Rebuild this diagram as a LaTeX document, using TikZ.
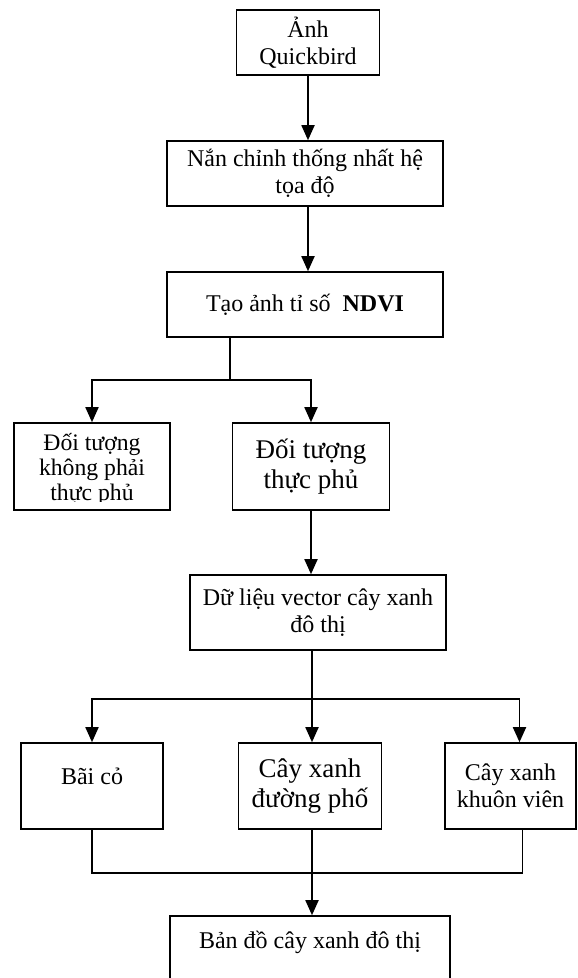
\documentclass[tikz,border=0pt]{standalone}
\usepackage{fontspec}
\setmainfont{Liberation Serif}
\usetikzlibrary{arrows.meta}

\begin{document}
\begin{tikzpicture}[x=1pt,y=-1pt,
  box/.style={draw,line width=1.6pt,inner sep=0pt,align=center,font=\fontsize{24}{27.5}\selectfont},
  big/.style={font=\fontsize{27}{30}\selectfont},
  txt/.style={inner sep=0pt,align=center,font=\fontsize{24}{27.5}\selectfont},
  link/.style={line width=1.8pt},
  arr/.style={link,-{Triangle[length=15pt,width=13pt]}}]
\useasboundingbox (0,0) rectangle (578,978);
% main column
\node[box,minimum width=143pt,minimum height=65pt] (anh) at (308,42.5) {Ảnh\\Quickbird};
\node[box,minimum width=276pt,minimum height=65pt] (nanchinh) at (305,173.5) {Nắn chỉnh thống nhất hệ\\tọa độ};
\node[box,minimum width=276pt,minimum height=65pt] (ndvi) at (305,304.5) {Tạo ảnh tỉ số~~\textbf{NDVI}};
% split on NDVI
\node[box,minimum width=156pt,minimum height=87pt] (khong) at (92,466.5) {};
\begin{scope}
\clip ([yshift=9pt]khong.south west) rectangle (khong.north east);
\node[txt,font=\fontsize{23.7}{25}\selectfont,anchor=north] (khongtxt) at ([yshift=-11pt]khong.north) {Đối tượng\\không phải\\thực phủ};
\end{scope}
\node[box,big,minimum width=157pt,minimum height=87pt] (thucphu) at (311,466.5) {Đối tượng\\thực phủ};
\node[box,minimum width=256pt,minimum height=75pt] (dulieu) at (318,612.5) {Dữ liệu vector cây xanh\\đô thị};
% three classes
\node[box,minimum width=142pt,minimum height=86pt] (baico) at (92,786) {};
\node[txt] (baicotxt) at ([yshift=-34pt]baico.north) {Bãi cỏ};
\node[box,big,minimum width=143pt,minimum height=86pt] (duongpho) at (310,786) {Cây xanh\\đường phố};
\node[box,minimum width=131pt,minimum height=86pt] (khuonvien) at (510.5,786) {Cây xanh\\khuôn viên};
\node[box,minimum width=280pt,minimum height=90pt] (bando) at (310,961) {};
\node[txt] (bandotxt) at ([yshift=-27pt]bando.north) {Bản đồ cây xanh đô thị};
% connectors
\draw[arr] (anh.south) -- (anh.south |- nanchinh.north);
\draw[arr] (nanchinh.south -| anh.south) -- (ndvi.north -| anh.south);
\coordinate (split1) at (230,380);
\draw[link] (ndvi.south -| split1) -- (split1);
\draw[arr] (split1) -| (khong.north);
\draw[arr] (split1) -| (thucphu.north);
\draw[arr] (thucphu.south) -- (thucphu.south |- dulieu.north);
\coordinate (split2) at (312,699);
\draw[link] (dulieu.south -| split2) -- (split2);
\draw[arr] (split2) -| (baico.north);
\draw[arr] (split2) -- (split2 |- duongpho.north);
\draw[arr] (split2) -| ([xshift=9pt]khuonvien.north);
\coordinate (join) at (312,873);
\draw[link] (baico.south) |- (join);
\draw[link] ([xshift=12pt]khuonvien.south) |- (join);
\draw[link] (duongpho.south -| join) -- (join);
\draw[arr] (join) -- (join |- bando.north);
\end{tikzpicture}
\end{document}
